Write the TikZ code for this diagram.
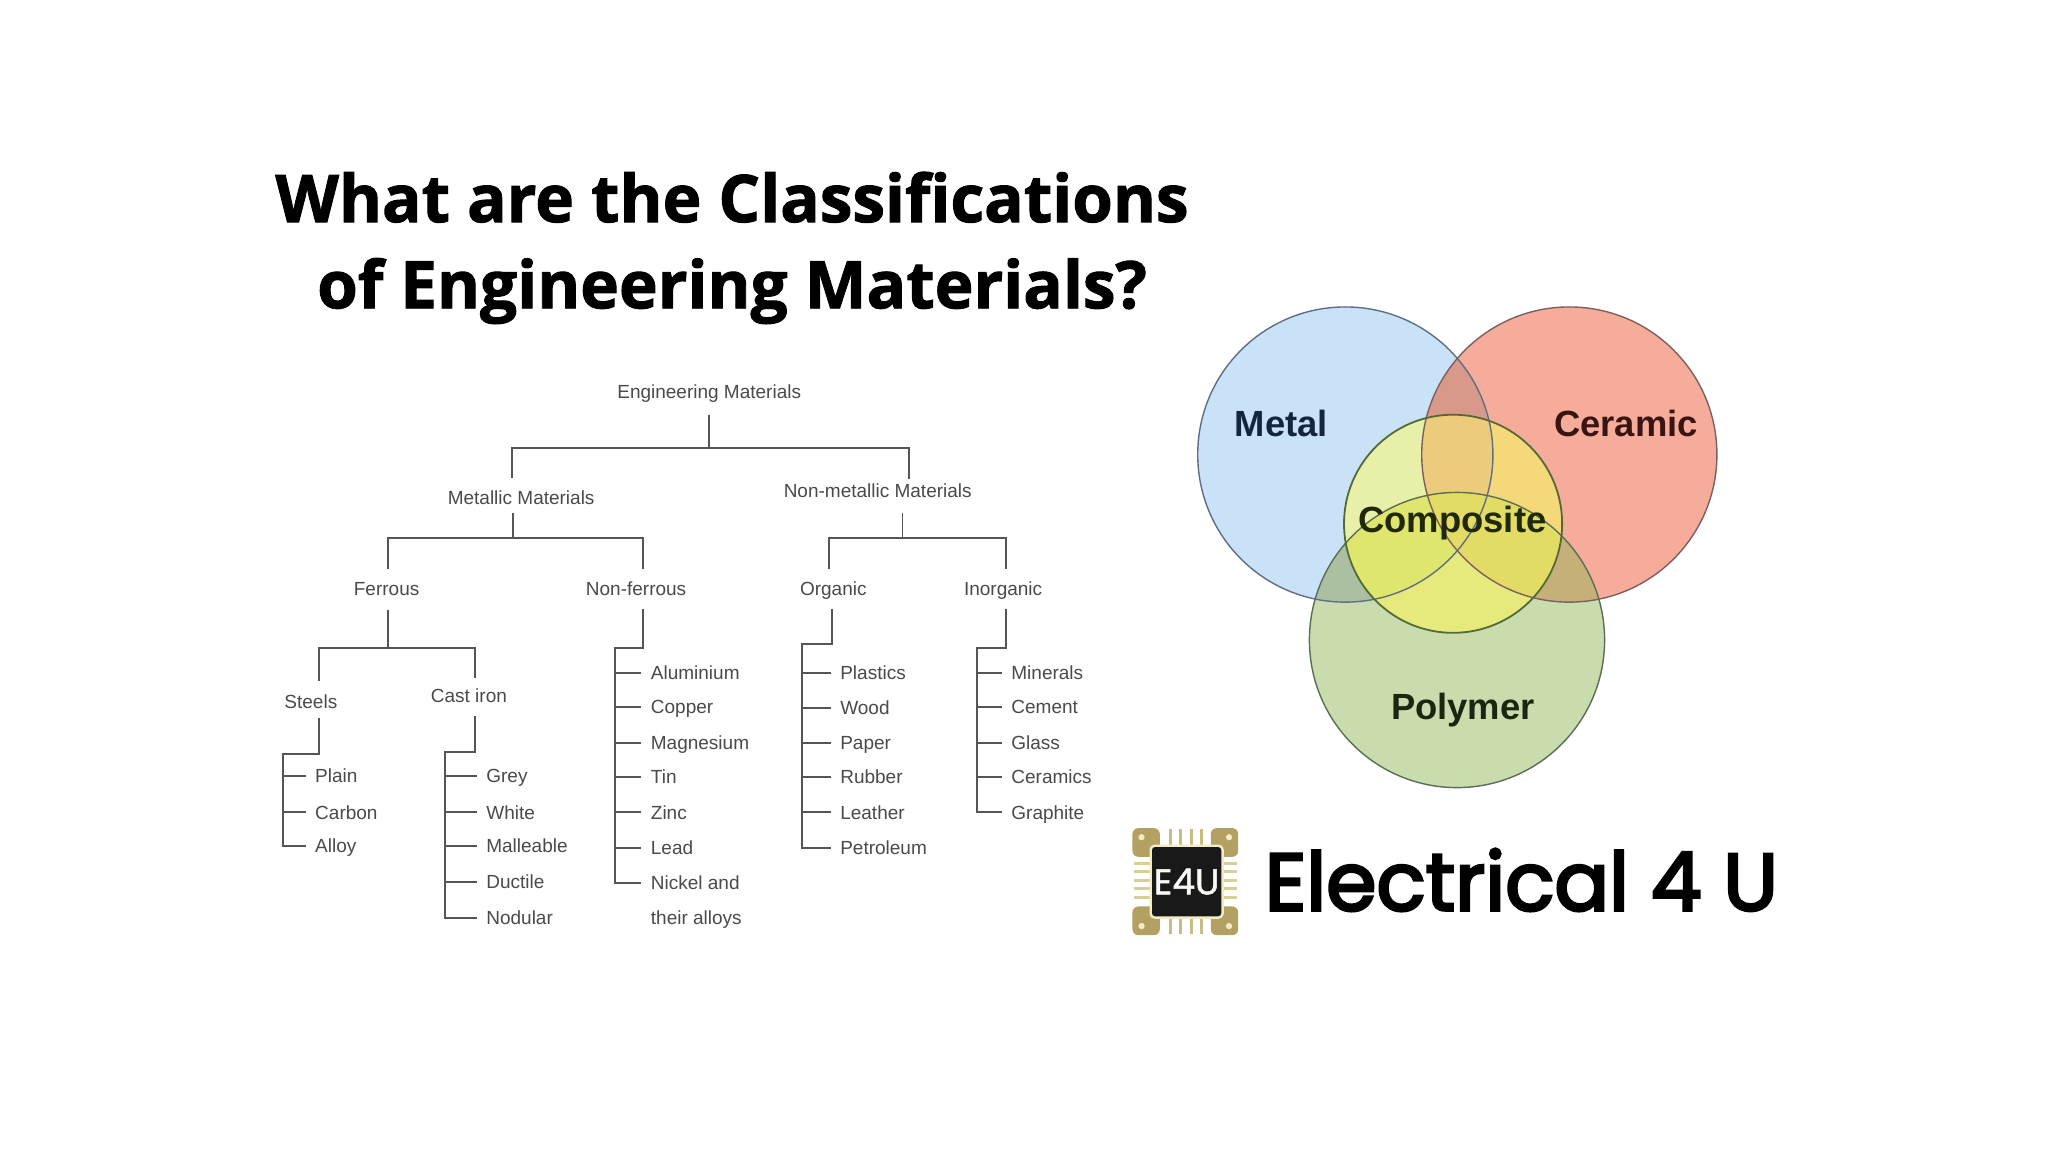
\documentclass[tikz,border=0pt]{standalone}
\usepackage{fontspec}
\setmainfont{Liberation Sans}
\newfontfamily\titlef{Open Sans}[BoldFeatures={FakeBold=1.5}]
\newfontfamily\logof{Poppins}[FakeBold=1.5]
\newfontfamily\logob{Poppins}[FakeBold=3.5]
\newcommand{\Cm}{(1030,348) circle (113)}
\newcommand{\Cc}{(1201.5,348) circle (113)}
\newcommand{\Cp}{(1115.5,490) circle (113)}
\newcommand{\Cx}{(1112.5,401) circle (83.5)}
\newcommand{\regionfill}[3]{\begin{scope}\clip #1;\clip #2;\fill[#3] (800,200) rectangle (1400,650);\end{scope}}
\definecolor{tcol}{HTML}{4A4A4A}
\definecolor{lcol}{HTML}{555555}
\definecolor{gold}{HTML}{B3A164}
\definecolor{pin}{HTML}{D9CE96}
\definecolor{pintop}{HTML}{C9BC80}
\definecolor{rim}{HTML}{F3EBC4}
\definecolor{vm}{HTML}{C9E2F8}
\definecolor{vc}{HTML}{F5AC9B}
\definecolor{vp}{HTML}{C9DCAE}
\definecolor{vmc}{HTML}{D8988A}
\definecolor{vmp}{HTML}{AAC0A0}
\definecolor{vcp}{HTML}{C6B07A}
\definecolor{vx}{HTML}{E7EFA8}
\definecolor{vxc}{HTML}{F4D87A}
\definecolor{vxmc}{HTML}{EDCB7C}
\definecolor{vxp}{HTML}{E6EA7C}
\definecolor{vxpm}{HTML}{DFE66E}
\definecolor{vxpc}{HTML}{E2DC64}
\definecolor{rm}{HTML}{5F6E82}
\definecolor{rc}{HTML}{7D5F5F}
\definecolor{rp}{HTML}{5A6E55}
\definecolor{rx}{HTML}{556937}
\definecolor{tm}{HTML}{14263E}
\definecolor{tc}{HTML}{3A1410}
\definecolor{tx}{HTML}{202808}
\definecolor{tp}{HTML}{182810}
\tikzset{
 titletext/.style={font=\titlef\bfseries\fontsize{32.8}{40}\selectfont,inner sep=0pt,text=black,anchor=base},
 lab/.style={font=\fontsize{9.5}{11}\selectfont,text=tcol,inner sep=0pt,text height=7pt,text depth=0.4pt},
 leaf/.style={font=\fontsize{9.5}{11}\selectfont,text=tcol,inner ysep=0pt,inner xsep=4.6pt,anchor=west,text height=7pt,text depth=0.4pt},
 tree/.style={draw=lcol,line width=0.95pt,line cap=butt,line join=miter},
 venn/.style={font=\bfseries\fontsize{18.2}{22}\selectfont,inner sep=0pt,text height=13pt,text depth=0pt},
 ring/.style={draw=#1,line width=0.7pt},
 padc/.style={fill=gold,rounded corners=3pt},
 pinline/.style={line width=1.5pt},
}
\begin{document}
\begin{tikzpicture}[x=0.65306pt,y=-0.65306pt]
\useasboundingbox (0,0) rectangle (1568,882);
\fill[white] (0,0) rectangle (1568,882);
% title
\node[titletext] (t1) at (560.5,170) {What are the Classifications};
\node[titletext] (t2) at (560.5,236) {of Engineering Materials?};
% tree: labels
\node[lab] (eng) at (543,300) {Engineering Materials};
\node[lab] (met) at (399,381) {Metallic Materials};
\node[lab] (non) at (672,376) {Non-metallic Materials};
\node[lab] (fer) at (296,451) {Ferrous};
\node[lab] (nfe) at (487,451) {Non-ferrous};
\node[lab] (org) at (638,451) {Organic};
\node[lab] (ino) at (768,451) {Inorganic};
\node[lab] (ste) at (238,537) {Steels};
\node[lab] (cas) at (359,533) {Cast iron};
% leaves
\foreach \n/\t/\y in {pla/Plain/594,car/Carbon/622,all/Alloy/648}
  \node[leaf] (\n) at (234,\y) {\t};
\foreach \n/\t/\y in {gre/Grey/594,whi/White/622,mal/Malleable/648,duc/Ductile/675,nod/Nodular/703}
  \node[leaf] (\n) at (365,\y) {\t};
\foreach \n/\t/\y in {alu/Aluminium/515,cop/Copper/541,mag/Magnesium/569,tin/Tin/595,zin/Zinc/622,lea/Lead/649,nic/Nickel and/676}
  \node[leaf] (\n) at (491,\y) {\t};
\node[leaf] (the) at (491,703) {their alloys};
\foreach \n/\t/\y in {pls/Plastics/515,woo/Wood/542,pap/Paper/569,rub/Rubber/595,lth/Leather/622,pet/Petroleum/649}
  \node[leaf] (\n) at (636,\y) {\t};
\foreach \n/\t/\y in {mnr/Minerals/515,cem/Cement/541,gla/Glass/569,crm/Ceramics/595,gra/Graphite/622}
  \node[leaf] (\n) at (767,\y) {\t};
% tree: junctions
\coordinate (b1) at (543,343);
\coordinate (b1l) at (392,366);
\coordinate (b1r) at (696,367);
\coordinate (b2) at (393,412);
\coordinate (b2t) at (393,393);
\coordinate (b2l) at (297,436);
\coordinate (b2r) at (492,436);
\coordinate (b3) at (691,412);
\coordinate (b3t) at (691,393);
\coordinate (b3l) at (635,436);
\coordinate (b3r) at (770,436);
\coordinate (b4) at (297,496);
\coordinate (b4t) at (297,467);
\coordinate (b4l) at (244,521);
\coordinate (b4r) at (364,519);
\coordinate (s1t) at (244,550);
\coordinate (s1) at (217,577);
\coordinate (s2t) at (364,548);
\coordinate (s2) at (341,576);
\coordinate (s3t) at (492,466);
\coordinate (s3) at (471,496);
\coordinate (s4t) at (637,466);
\coordinate (s4) at (614,493);
\coordinate (s5t) at (770,466);
\coordinate (s5) at (748,496);
% tree: connectors
\draw[tree] ([yshift=-7.5pt]eng.south) -- (b1);
\draw[tree] (b1l) |- (b1) -| (b1r);
\draw[tree] (b2t) -- (b2);
\draw[tree] (b2l) |- (b2) -| (b2r);
\draw[tree] (b3t) -- (b3);
\draw[tree] (b3l) |- (b3) -| (b3r);
\draw[tree] (b4t) -- (b4);
\draw[tree] (b4l) |- (b4) -| (b4r);
\draw[tree] (s1t) |- (s1) |- (all.west);
\foreach \n in {pla,car} \draw[tree] (s1 |- \n.west) -- (\n.west);
\draw[tree] (s2t) |- (s2) |- (nod.west);
\foreach \n in {gre,whi,mal,duc} \draw[tree] (s2 |- \n.west) -- (\n.west);
\draw[tree] (s3t) |- (s3) |- (nic.west);
\foreach \n in {alu,cop,mag,tin,zin,lea} \draw[tree] (s3 |- \n.west) -- (\n.west);
\draw[tree] (s4t) |- (s4) |- (pet.west);
\foreach \n in {pls,woo,pap,rub,lth} \draw[tree] (s4 |- \n.west) -- (\n.west);
\draw[tree] (s5t) |- (s5) |- (gra.west);
\foreach \n in {mnr,cem,gla,crm} \draw[tree] (s5 |- \n.west) -- (\n.west);
% venn
\fill[vm] \Cm;
\fill[vc] \Cc;
\fill[vp] \Cp;
\regionfill{\Cm}{\Cc}{vmc}
\regionfill{\Cm}{\Cp}{vmp}
\regionfill{\Cc}{\Cp}{vcp}
\fill[vx] \Cx;
\regionfill{\Cx}{\Cc}{vxc}
\begin{scope}\clip \Cx;\clip \Cm;\clip \Cc;\fill[vxmc] (800,200) rectangle (1400,650);\end{scope}
\regionfill{\Cx}{\Cp}{vxp}
\begin{scope}\clip \Cx;\clip \Cp;\clip \Cm;\fill[vxpm] (800,200) rectangle (1400,650);\end{scope}
\begin{scope}\clip \Cx;\clip \Cp;\clip \Cc;\fill[vxpc] (800,200) rectangle (1400,650);\end{scope}
\draw[ring=rm] \Cm;
\draw[ring=rc] \Cc;
\draw[ring=rp] \Cp;
\draw[ring=rx,line width=0.9pt] \Cx;
\node[venn,text=tm] (lm) at (981,324) {Metal};
\node[venn,text=tc] (lc) at (1245,324) {Ceramic};
\node[venn,text=tx] (lx) at (1112,398) {Composite};
\node[venn,text=tp] (lp) at (1120,541) {Polymer};
% logo chip
\fill[padc] (867,634) rectangle (888,656);
\fill[padc] (927,634) rectangle (948,656);
\fill[padc] (867,694) rectangle (888,716);
\fill[padc] (927,694) rectangle (948,716);
\foreach \a in {896,904,912.5,920} {
  \draw[pinline,draw=pintop] (\a,635) -- (\a,648);
  \draw[pinline,draw=pintop] (\a,702) -- (\a,715);
}
\foreach \a in {661,667,674,680,687} {
  \draw[pinline,draw=pin] (868,\a) -- (881,\a);
  \draw[pinline,draw=pin] (936,\a) -- (947,\a);
}
\fill[rim] (874,641) circle (2.4);
\fill[rim] (941,641) circle (2.4);
\fill[rim] (874,709) circle (2.4);
\fill[rim] (941,709) circle (2.4);
\filldraw[draw=rim,line width=1.2pt,fill=black!90,rounded corners=2pt] (881,647.5) rectangle (936,702.5);
\node[font=\logof\fontsize{18}{20}\selectfont,text=white!92!gold,inner sep=0pt] (e4u) at (908.5,675) {E4U};
\node[font=\logob\fontsize{40.5}{48}\selectfont,inner sep=0pt,anchor=base west,text=black] (brand) at (968,697) {Electrical 4 U};
\end{tikzpicture}
\end{document}
